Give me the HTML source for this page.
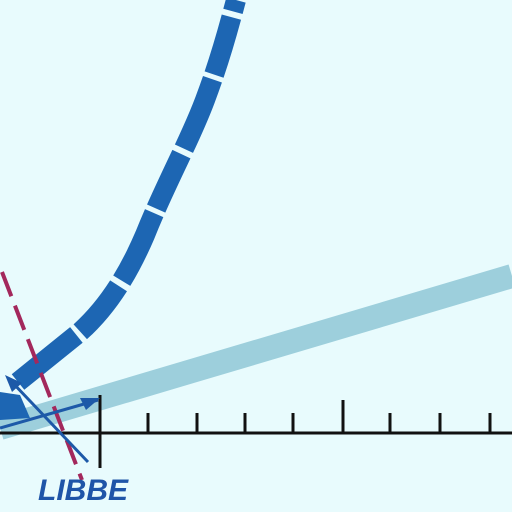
<!DOCTYPE html>
<html><head><meta charset="utf-8"><style>
html,body{margin:0;padding:0;background:#e8fbfd;}
svg{display:block}
</style></head><body>
<svg width="512" height="512" viewBox="0 0 512 512">
<rect width="512" height="512" fill="#e8fbfd"/>
<line x1="0" y1="428" x2="512" y2="276" stroke="#9dcfdc" stroke-width="24"/>
<path d="M18,382 L80,332 C110,305 130,270 145,235 C165,185 190,140 205,100 C220,60 228,30 236,0" fill="none" stroke="#1d66b3" stroke-width="20" stroke-dasharray="75,5,60,6"/>
<path d="M0,392 L0,420 L30,418 L20,395 Z" fill="#1d66b3"/>
<line x1="2" y1="272" x2="82" y2="480" stroke="#a3285c" stroke-width="4" stroke-dasharray="26,10"/>
<g id="axis">
<line x1="0" y1="433" x2="512" y2="433" stroke="#111" stroke-width="3"/>
</g>
<line x1="0" y1="428" x2="98" y2="400" stroke="#1d59a8" stroke-width="3"/>
<polygon points="100,398 80,398 86,410" fill="#1d59a8"/>
<line x1="88" y1="462" x2="10" y2="380" stroke="#1d59a8" stroke-width="3"/>
<polygon points="5,375 22,383 12,392" fill="#1d59a8"/>
<text x="38" y="500" font-family="Liberation Sans, sans-serif" font-size="30" font-weight="bold" font-style="italic" fill="#1f55a8">LIBBE</text>
<script>
const tickPositions=[100,148,197,245,293,343,390,440,490];
const tickKinds=["major","minor","minor","minor","minor","mid","minor","minor","minor"];
const g=document.getElementById('axis');
tickPositions.forEach((x,i)=>{
 const l=document.createElementNS('http://www.w3.org/2000/svg','line');
 const k=tickKinds[i];
 l.setAttribute('x1',x);l.setAttribute('x2',x);
 l.setAttribute('y1',k==="major"?395:(k==="mid"?400:413));
 l.setAttribute('y2',k==="major"?468:433);
 l.setAttribute('stroke','#111');l.setAttribute('stroke-width',3);
 
 
 g.appendChild(l);
});
</script>
</svg>
</body></html>
